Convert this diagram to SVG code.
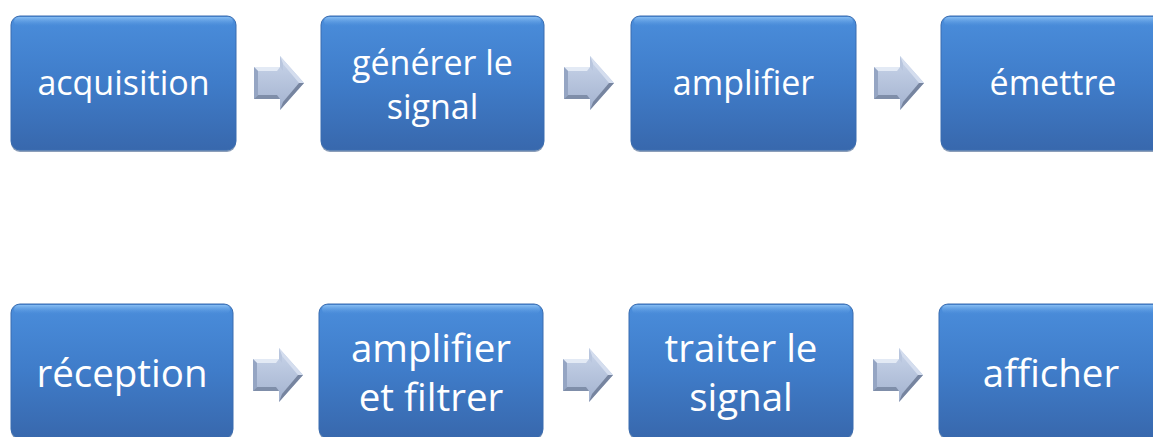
<svg xmlns="http://www.w3.org/2000/svg" xmlns:xlink="http://www.w3.org/1999/xlink" width="1153" height="437" viewBox="0 0 1153 437">
<defs>
<linearGradient id="boxg" x1="0" y1="0" x2="0" y2="1">
<stop offset="0" stop-color="#4a8ddb"/>
<stop offset="0.5" stop-color="#3f7cc9"/>
<stop offset="1" stop-color="#3868ad"/>
</linearGradient>
<linearGradient id="hlg" x1="0" y1="0" x2="0" y2="1">
<stop offset="0" stop-color="#8cc2f5" stop-opacity="0.9"/>
<stop offset="1" stop-color="#5d9be2" stop-opacity="0"/>
</linearGradient>
<linearGradient id="arrg" x1="0" y1="0" x2="0" y2="1">
<stop offset="0" stop-color="#c9d5ea"/>
<stop offset="1" stop-color="#a3b2cf"/>
</linearGradient>
<g id="arrow">
<path d="M0,-16 L26,-16 L26,-27 L50,0 L26,27 L26,16 L0,16 Z" fill="url(#arrg)"/>
<polygon points="0,-16 26,-16 23,-12 4,-12" fill="#e3eaf5"/>
<polygon points="0,-16 4,-12 4,12 0,16" fill="#95a5c3"/>
<polygon points="0,16 4,12 23,12 26,16" fill="#7f8ea9"/>
<polygon points="26,-27 50,0 45,0 29,-19" fill="#d4ddee"/>
<polygon points="50,0 26,27 29,19 45,0" fill="#76849f"/>
<polygon points="26,-27 29,-19 29,-12 26,-16" fill="#b9c6de"/>
</g>
</defs>
<style>
.shadow { fill: #2b4f80; opacity: 0.55; }
.box { fill: url(#boxg); stroke: #3a6db0; stroke-width: 1; }
.hl { fill: url(#hlg); }
.t1 { font-family: "Open Sans", "Noto Sans", sans-serif; font-size: 34px; fill: #ffffff; text-anchor: middle; }
.t2 { font-family: "Open Sans", "Noto Sans", sans-serif; font-size: 38.5px; fill: #ffffff; text-anchor: middle; }
</style>
<rect width="1153" height="437" fill="#ffffff"/>

<g id="n-acquisition">
<rect class="shadow" x="11" y="18" width="225" height="134" rx="9"/>
<rect class="box" x="11" y="16" width="225" height="134" rx="9"/>
<rect class="hl" x="14" y="17" width="219" height="9" rx="5"/>
<text class="t1" x="123.5" y="95">acquisition</text>
</g>
<g id="n-generer">
<rect class="shadow" x="321" y="18" width="223" height="134" rx="9"/>
<rect class="box" x="321" y="16" width="223" height="134" rx="9"/>
<rect class="hl" x="324" y="17" width="217" height="9" rx="5"/>
<text class="t1"><tspan x="432.5" y="75">générer le</tspan><tspan x="432.5" y="119">signal</tspan></text>
</g>
<g id="n-amplifier">
<rect class="shadow" x="631" y="18" width="225" height="134" rx="9"/>
<rect class="box" x="631" y="16" width="225" height="134" rx="9"/>
<rect class="hl" x="634" y="17" width="219" height="9" rx="5"/>
<text class="t1" x="743.5" y="95">amplifier</text>
</g>
<g id="n-emettre">
<rect class="shadow" x="941" y="18" width="225" height="134" rx="9"/>
<rect class="box" x="941" y="16" width="225" height="134" rx="9"/>
<rect class="hl" x="944" y="17" width="219" height="9" rx="5"/>
<text class="t1" x="1053" y="95">émettre</text>
</g>

<g id="n-reception">
<rect class="shadow" x="11" y="306" width="222" height="134" rx="9"/>
<rect class="box" x="11" y="304" width="222" height="134" rx="9"/>
<rect class="hl" x="14" y="305" width="216" height="9" rx="5"/>
<text class="t2" x="122" y="387">réception</text>
</g>
<g id="n-amplifier-filtrer">
<rect class="shadow" x="319" y="306" width="224" height="134" rx="9"/>
<rect class="box" x="319" y="304" width="224" height="134" rx="9"/>
<rect class="hl" x="322" y="305" width="218" height="9" rx="5"/>
<text class="t2"><tspan x="431" y="362">amplifier</tspan><tspan x="431" y="411">et filtrer</tspan></text>
</g>
<g id="n-traiter">
<rect class="shadow" x="629" y="306" width="224" height="134" rx="9"/>
<rect class="box" x="629" y="304" width="224" height="134" rx="9"/>
<rect class="hl" x="632" y="305" width="218" height="9" rx="5"/>
<text class="t2"><tspan x="741" y="362">traiter le</tspan><tspan x="741" y="411">signal</tspan></text>
</g>
<g id="n-afficher">
<rect class="shadow" x="939" y="306" width="225" height="134" rx="9"/>
<rect class="box" x="939" y="304" width="225" height="134" rx="9"/>
<rect class="hl" x="942" y="305" width="219" height="9" rx="5"/>
<text class="t2" x="1051" y="387">afficher</text>
</g>

<g id="connectors">
<use xlink:href="#arrow" x="254" y="83"/>
<use xlink:href="#arrow" x="564" y="83"/>
<use xlink:href="#arrow" x="874" y="83"/>
<use xlink:href="#arrow" x="253" y="375"/>
<use xlink:href="#arrow" x="563" y="375"/>
<use xlink:href="#arrow" x="873" y="375"/>
</g>
</svg>
